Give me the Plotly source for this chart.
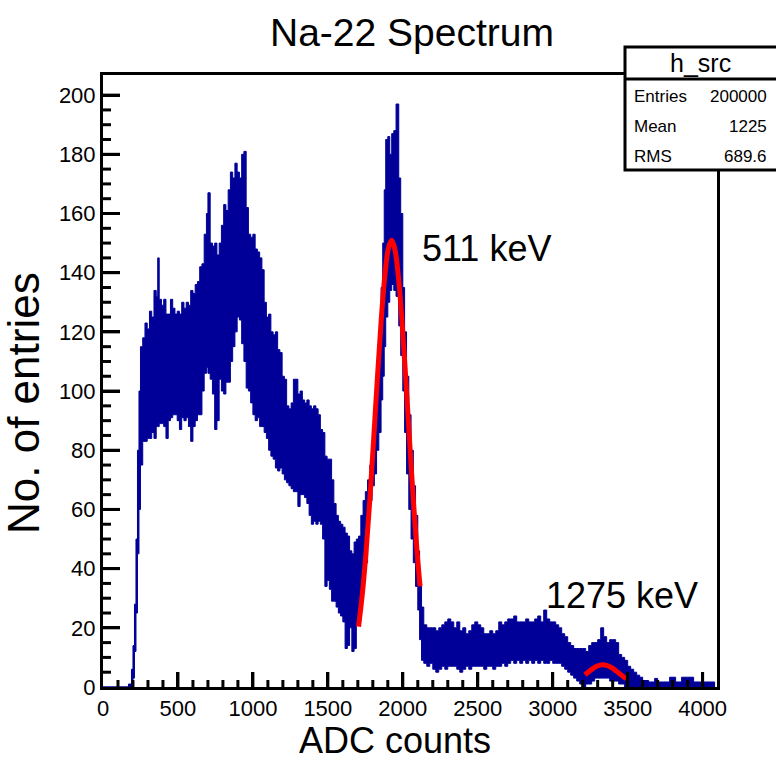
import plotly.graph_objects as go

adc = [0, 170, 190, 200, 210, 220, 230, 240, 250, 265, 280, 295, 310, 325, 340, 355,
       365, 375, 390, 405, 420, 435, 450, 465, 480, 495, 510, 525, 540, 555, 570, 585,
       600, 615, 630, 645, 660, 675, 690, 700, 715, 730, 745, 760, 775, 790, 805, 820,
       835, 850, 865, 880, 895, 910, 925, 940, 955, 970, 985, 1000, 1015, 1030, 1045,
       1060, 1075, 1090, 1105, 1120, 1135, 1150, 1165, 1180, 1195, 1210, 1225, 1240,
       1255, 1270, 1285, 1300, 1315, 1330, 1345, 1360, 1375, 1390, 1405, 1420, 1435,
       1450, 1465, 1480, 1495, 1510, 1525, 1540, 1555, 1570, 1585, 1600, 1615, 1630,
       1645, 1660, 1675, 1690, 1705, 1720, 1735, 1750, 1765, 1780, 1795, 1810, 1825,
       1840, 1855, 1866, 1876, 1886, 1900, 1913, 1926, 1940, 1955, 1973, 1986, 2000,
       2012, 2025, 2040, 2055, 2070, 2085, 2100, 2112, 2125, 2140, 2160, 2180, 2200,
       2220, 2240, 2260, 2280, 2300, 2320, 2340, 2360, 2380, 2400, 2420, 2440, 2460,
       2480, 2500, 2520, 2540, 2560, 2580, 2600, 2620, 2640, 2660, 2680, 2700, 2720,
       2740, 2760, 2780, 2800, 2820, 2840, 2860, 2880, 2900, 2920, 2940, 2960, 2980,
       3000, 3020, 3040, 3060, 3080, 3100, 3120, 3140, 3160, 3180, 3200, 3220, 3240,
       3260, 3280, 3300, 3320, 3340, 3360, 3380, 3400, 3420, 3440, 3460, 3480, 3500,
       3520, 3540, 3560, 3580, 3600, 3640, 3680, 3700, 3740, 3780, 3820, 3860, 3900,
       3940, 3980, 4020, 4060, 4080]

upper = [0, 1, 6, 14, 28, 50, 80, 100, 115, 118, 123, 121, 127, 125, 134, 132,
         145, 131, 129, 131, 126, 126, 131, 128, 126, 127, 126, 130, 128, 130, 129, 134,
         133, 136, 137, 142, 143, 153, 160, 167, 150, 149, 150, 146, 150, 156, 163, 161,
         168, 174, 172, 177, 174, 172, 180, 181, 162, 153, 152, 153, 148, 147, 145,
         141, 130, 125, 126, 120, 119, 120, 114, 113, 105, 104, 95, 94,
         96, 104, 104, 99, 100, 97, 96, 97, 95, 94, 95, 94, 92,
         87, 86, 78, 77, 77, 70, 62, 58, 56, 55, 54, 52, 51,
         46, 45, 49, 50, 51, 58, 63, 66, 70, 75, 80, 95, 105,
         118, 135, 150, 168, 185, 186, 180, 187, 188, 197, 172, 160, 135,
         120, 105, 92, 80, 68, 58, 46, 36, 27, 21, 20, 20, 20,
         19, 20, 21, 22, 23, 22, 20, 22, 19, 20, 18, 19, 21,
         22, 21, 20, 18, 18, 19, 18, 19, 22, 21, 22, 23, 23,
         24, 22, 22, 22, 23, 22, 22, 23, 24, 22, 26, 23, 22,
         22, 21, 20, 18, 17, 15, 14, 13, 13, 13, 13, 12, 14,
         15, 15, 16, 20, 17, 15, 16, 16, 15, 11, 10, 9, 7,
         6, 5, 4, 3.3, 2.2, 1.7, 2.9, 1.7, 1.7, 3.3, 1.7, 3.3, 3.3,
         1.7, 1.7, 1.7, 1.7, 0]

lower = [0, 0, 0, 3, 12, 25, 45, 60, 75, 83, 83, 84, 84, 86, 84, 88,
         88, 89, 89, 88, 84, 90, 91, 92, 92, 90, 87, 91, 90, 91, 88, 83,
         88, 90, 92, 92, 100, 106, 108, 106, 104, 99, 87, 90, 104, 100, 99, 103,
         103, 110, 115, 120, 125, 124, 116, 110, 101, 100, 96, 92, 90, 91, 88,
         88, 86, 84, 80, 78, 77, 74, 73, 74, 72, 70, 69, 68,
         67, 66, 66, 61, 65, 65, 64, 62, 58, 55, 56, 55, 56,
         55, 50, 34, 36, 33, 29, 29, 27, 25, 24, 22, 13, 14,
         20, 12, 13, 22, 25, 33, 38, 42, 57, 63, 68, 72, 80,
         86, 97, 105, 115, 125, 130, 134, 136, 134, 132, 122, 112, 100,
         86, 72, 60, 50, 42, 34, 26, 16, 9, 8, 7, 8, 6,
         5, 6, 7, 6, 7, 7, 7, 6, 5, 6, 7, 6, 7,
         7, 7, 7, 6, 7, 7, 6, 7, 7, 8, 7, 8, 9,
         8, 9, 8, 9, 8, 9, 8, 9, 8, 9, 8, 8, 9,
         8, 8, 8, 7, 6, 5, 4, 3, 2, 1, 0, 1, 1,
         2, 3, 3, 3, 3, 3, 2, 2, 2, 1, 1, 0, 0,
         0, 0, 0, 0, 0, 0, 0, 0, 0, 0, 0, 0, 0,
         0, 0, 0, 0, 0]

fit1_x = [1705, 1730, 1755, 1780, 1805, 1830, 1855, 1880, 1905, 1925, 1945, 1970,
          1995, 2020, 2045, 2070, 2095, 2115]
fit1_y = [20.4, 31.4, 45.7, 63.3, 83.3, 104, 123.3, 138.9, 148.5, 151, 148.5, 138.9,
          123.3, 104, 83.3, 63.3, 45.7, 34]
fit2_x = [3215, 3240, 3265, 3290, 3315, 3335, 3360, 3385, 3410, 3435, 3460, 3490]
fit2_y = [4.14, 5.17, 6.13, 6.9, 7.38, 7.5, 7.31, 6.76, 5.94, 4.96, 3.93, 2.78]

stats_labels = ["Entries", "Mean", "RMS"]
stats_values = ["200000", "1225", "689.6"]

X_MAX, Y_MAX = 4096, 206.8
X_MAJOR, X_MINOR = 500, 100
Y_MAJOR, Y_MINOR = 20, 5

FONT = "Liberation Sans, Arial, sans-serif"
BLUE = "#000099"

W, H = 776, 760
L, R, T, B = 103, 59, 75, 73
pw, ph = W - L - R, H - T - B


def px(p):
    return (p - L) / pw


def py(p):
    return (H - B - p) / ph


fig = go.Figure()
fig.add_trace(go.Scatter(x=adc, y=lower, mode="lines", line=dict(color=BLUE, width=1, shape="hv"),
                         hoverinfo="skip", showlegend=False))
fig.add_trace(go.Scatter(x=adc, y=upper, mode="lines", line=dict(color=BLUE, width=1, shape="hv"),
                         fill="tonexty", fillcolor=BLUE, showlegend=False))
fig.add_trace(go.Scatter(x=fit1_x, y=fit1_y, mode="lines",
                         line=dict(color="#ff0000", width=5, shape="spline"), showlegend=False))
fig.add_trace(go.Scatter(x=fit2_x, y=fit2_y, mode="lines",
                         line=dict(color="#ff0000", width=5, shape="spline"), showlegend=False))

# ROOT-style inside tick marks, one short segment per tick (built from the tick spacing)
for v in range(X_MINOR, 4001, X_MINOR):
    ln = 15 if v % X_MAJOR == 0 else 7
    fig.add_trace(go.Scatter(x=[v, v], y=[0, ln / ph * Y_MAX], mode="lines",
                             line=dict(color="#000000", width=3), hoverinfo="skip",
                             showlegend=False))
for v in range(Y_MINOR, 201, Y_MINOR):
    ln = 17 if v % Y_MAJOR == 0 else 8
    fig.add_trace(go.Scatter(x=[0, ln / pw * X_MAX], y=[v, v], mode="lines",
                             line=dict(color="#000000", width=3), hoverinfo="skip",
                             showlegend=False))

fig.update_layout(
    width=W, height=H,
    margin=dict(l=L, r=R, t=T, b=B),
    paper_bgcolor="white", plot_bgcolor="white",
    font=dict(family=FONT, color="black"),
    showlegend=False,
    xaxis=dict(
        range=[0, X_MAX], showgrid=False, zeroline=False,
        showline=True, mirror=True, linewidth=3, linecolor="black",
        tickmode="linear", tick0=0, dtick=X_MAJOR,
        ticks="inside", ticklen=15, tickwidth=3, tickcolor="black",
        tickfont=dict(size=22, family=FONT, color="black"),
    ),
    yaxis=dict(
        range=[0, Y_MAX], showgrid=False, zeroline=False,
        showline=True, mirror=True, linewidth=3, linecolor="black",
        tickmode="linear", tick0=0, dtick=Y_MAJOR,
        ticks="inside", ticklen=17, tickwidth=3, tickcolor="black",
        tickfont=dict(size=22, family=FONT, color="black"),
    ),
)

ann = []
ann.append(dict(text="Na-22 Spectrum", x=px(412), y=py(32), xref="paper", yref="paper",
                showarrow=False, xanchor="center", yanchor="middle", font=dict(size=39, family=FONT)))
ann.append(dict(text="ADC counts", x=px(395), y=py(740), xref="paper", yref="paper",
                showarrow=False, xanchor="center", yanchor="middle", font=dict(size=36, family=FONT)))
ann.append(dict(text="No. of entries", x=px(23), y=py(403), xref="paper", yref="paper",
                showarrow=False, xanchor="center", yanchor="middle", textangle=-90,
                font=dict(size=44, family=FONT)))
ann.append(dict(text="511 keV", x=px(420), y=py(248), xref="paper", yref="paper",
                showarrow=False, xanchor="left", yanchor="middle", font=dict(size=36, family=FONT)))
ann.append(dict(text="1275 keV", x=px(544), y=py(595), xref="paper", yref="paper",
                showarrow=False, xanchor="left", yanchor="middle", font=dict(size=36, family=FONT)))

shapes = [
    dict(type="rect", xref="paper", yref="paper", x0=px(625), x1=px(840), y0=py(170), y1=py(47),
         line=dict(color="black", width=3), fillcolor="white", layer="above"),
    dict(type="line", xref="paper", yref="paper", x0=px(625), x1=px(840), y0=py(79), y1=py(79),
         line=dict(color="black", width=3), layer="above"),
]
ann.append(dict(text="h_src", x=px(700), y=py(63), xref="paper", yref="paper", showarrow=False,
                xanchor="center", yanchor="middle", font=dict(size=25, family=FONT)))
rows_y = [96, 126, 156]
for lab, val, yy in zip(stats_labels, stats_values, rows_y):
    ann.append(dict(text=lab, x=px(632), y=py(yy), xref="paper", yref="paper", showarrow=False,
                    xanchor="left", yanchor="middle", font=dict(size=17, family=FONT)))
    ann.append(dict(text=val, x=px(769), y=py(yy), xref="paper", yref="paper", showarrow=False,
                    xanchor="right", yanchor="middle", font=dict(size=17, family=FONT)))

fig.update_layout(annotations=ann, shapes=shapes)
fig.write_html("out.html")
